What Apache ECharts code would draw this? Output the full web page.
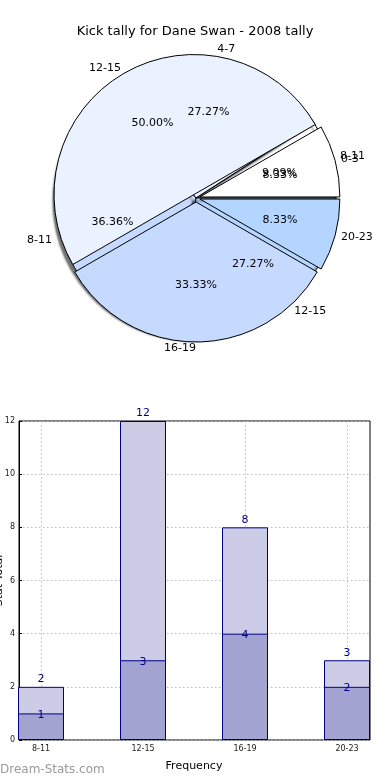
<!DOCTYPE html>
<html>
<head>
<meta charset="utf-8">
<script src="https://cdn.jsdelivr.net/npm/echarts@6/dist/echarts.min.js"></script>
<style>
html,body{margin:0;padding:0;background:#fff;}
#c{width:390px;height:780px;}
</style>
</head>
<body>
<div id="c"></div>
<script>
// Pie drawn on top (sums to 12)
const topPieLabels = ['0-3', '12-15', '16-19', '20-23'];
const topPieValues = [1, 6, 4, 1];
const topPieColors = ['#ffffff', '#eaf1ff', '#c6d9ff', '#b3d5ff'];
// Pie drawn underneath (sums to 11)
const lowPieLabels = ['8-11', '4-7', '8-11', '12-15'];
const lowPieValues = [1, 3, 4, 3];
const lowPieColors = ['#ffffff', '#eaf1ff', '#c6d9ff', '#b3d5ff'];

// Bar chart
const barCategories = ['8-11', '12-15', '16-19', '20-23'];
const barTotals = [2, 12, 8, 3];
const barLower = [1, 3, 4, 2];

const FONT = 'DejaVu Sans';
const center = [196, 198];
const R = 140;

function pct(values) {
  const s = values.reduce((a, b) => a + b, 0);
  return values.map(v => (v / s * 100).toFixed(2) + '%');
}

function pieData(labels, values, colors, selected) {
  return labels.map((n, i) => ({
    name: n, value: values[i], selected: selected,
    itemStyle: { color: colors[i] }
  }));
}

function outerLabelSeries(labels, values, z) {
  return {
    type: 'pie', center: center, radius: R, startAngle: 0, clockwise: false,
    silent: true, z: z, avoidLabelOverlap: false,
    labelLayout: { hideOverlap: false },
    itemStyle: { color: 'rgba(0,0,0,0)', borderWidth: 0 },
    label: { show: true, position: 'outside', formatter: '{b}', color: '#000', fontFamily: FONT, fontSize: 11, distanceToLabelLine: 0, overflow: 'none' },
    labelLine: { show: false, length: 10, length2: 0 },
    emphasis: { disabled: true },
    data: labels.map((n, i) => ({ name: n, value: values[i] }))
  };
}

function pctLabelSeries(labels, values, z) {
  const p = pct(values);
  return {
    type: 'pie', center: center, radius: R * 1.2, startAngle: 0, clockwise: false,
    silent: true, z: z, avoidLabelOverlap: false,
    labelLayout: { hideOverlap: false },
    itemStyle: { color: 'rgba(0,0,0,0)', borderWidth: 0 },
    label: { show: true, position: 'inside', formatter: (q) => p[q.dataIndex], color: '#000', fontFamily: FONT, fontSize: 11 },
    labelLine: { show: false },
    emphasis: { disabled: true },
    data: labels.map((n, i) => ({ name: n, value: values[i] }))
  };
}

const chart = echarts.init(document.getElementById('c'), null, { renderer: 'canvas' });

const option = {
  animation: false,
  backgroundColor: '#fff',
  textStyle: { fontFamily: FONT },
  title: {
    text: 'Kick tally for Dane Swan - 2008 tally',
    left: 'center', top: 20,
    textStyle: { fontFamily: FONT, fontSize: 13, fontWeight: 'normal', color: '#000' }
  },
  graphic: [{
    type: 'text', left: 0, top: 764,
    style: { text: 'Dream-Stats.com', fill: '#9a9a9a', font: '12px "DejaVu Sans"' }
  }],
  grid: [
    { left: 19, right: 20, top: 421, bottom: 40, show: true, borderColor: '#000', borderWidth: 1, backgroundColor: 'rgba(0,0,0,0)', outerBoundsMode: 'none', containLabel: false },
    { left: 41, right: 43, top: 421, bottom: 40, outerBoundsMode: 'none', containLabel: false }
  ],
  xAxis: [
    { gridIndex: 0, type: 'value', min: 0, max: 1, show: false },
    {
      gridIndex: 1, type: 'category', data: barCategories, boundaryGap: false,
      axisLine: { show: false },
      axisTick: { show: true, inside: true, length: 3, lineStyle: { color: '#000' } },
      axisLabel: { fontFamily: FONT, fontSize: 8, color: '#222', margin: 5 },
      splitLine: { show: true, lineStyle: { color: '#bbb', type: [1.5, 2.5], width: 1 } },
      name: 'Frequency', nameLocation: 'middle', nameGap: 21, nameMoveOverlap: false,
      nameTextStyle: { fontFamily: FONT, fontSize: 11, color: '#000' }
    }
  ],
  yAxis: [
    {
      gridIndex: 0, type: 'value', min: 0, max: 12, interval: 2,
      axisLine: { show: true, lineStyle: { color: '#000' } },
      axisTick: { show: true, inside: true, length: 3, lineStyle: { color: '#000' } },
      axisLabel: { fontFamily: FONT, fontSize: 8, color: '#222', margin: 4 },
      splitLine: { show: true, lineStyle: { color: '#bbb', type: [1.5, 2.5], width: 1 } },
      name: 'Stat Total', nameLocation: 'middle', nameGap: 14, nameRotate: 90, nameMoveOverlap: false,
      nameTextStyle: { fontFamily: FONT, fontSize: 11, color: '#000' }
    },
    { gridIndex: 1, type: 'value', min: 0, max: 12, interval: 2, show: false }
  ],
  series: [
    // underneath pie
    {
      type: 'pie', center: center, radius: R, startAngle: 0, clockwise: false, z: 1,
      silent: true, label: { show: false }, labelLine: { show: false },
      itemStyle: { borderColor: '#000', borderWidth: 1, shadowBlur: 2, shadowOffsetX: -3, shadowOffsetY: 3, shadowColor: 'rgba(0,0,0,0.55)' },
      emphasis: { disabled: true },
      data: pieData(lowPieLabels, lowPieValues, lowPieColors, false)
    },
    // top pie
    {
      type: 'pie', center: center, radius: R, startAngle: 0, clockwise: false, z: 2,
      silent: true, selectedMode: 'multiple', selectedOffset: 4,
      label: { show: false }, labelLine: { show: false },
      itemStyle: { borderColor: '#000', borderWidth: 1 },
      emphasis: { disabled: true },
      data: pieData(topPieLabels, topPieValues, topPieColors, true)
    },
    outerLabelSeries(lowPieLabels, lowPieValues, 3),
    outerLabelSeries(topPieLabels, topPieValues, 3),
    pctLabelSeries(lowPieLabels, lowPieValues, 4),
    pctLabelSeries(topPieLabels, topPieValues, 4),
    // bars
    {
      type: 'bar', xAxisIndex: 1, yAxisIndex: 1, data: barTotals, barWidth: 46, barGap: '-100%',
      clip: false, z: 3,
      itemStyle: { color: '#ccccE6', borderColor: '#000080', borderWidth: 1 },
      label: { show: true, position: 'top', distance: 2, color: '#00008b', fontFamily: FONT, fontSize: 11 }
    },
    {
      type: 'bar', xAxisIndex: 1, yAxisIndex: 1, data: barLower, barWidth: 46, barGap: '-100%',
      clip: false, z: 4,
      itemStyle: { color: '#a2a3d1', borderColor: '#000080', borderWidth: 1 },
      label: { show: true, position: 'top', distance: -7, color: '#00008b', fontFamily: FONT, fontSize: 11 }
    }
  ]
};
chart.setOption(option);
</script>
</body>
</html>
